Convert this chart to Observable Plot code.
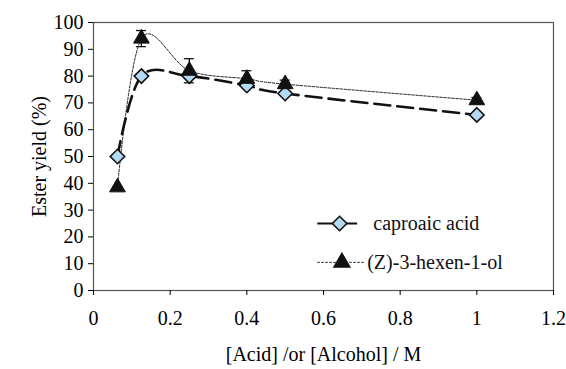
<!DOCTYPE html>
<html>
<head>
<meta charset="utf-8">
<script src="https://cdn.jsdelivr.net/npm/d3@7"></script>
<script src="https://cdn.jsdelivr.net/npm/@observablehq/plot@0.6"></script>
<style>
  html, body { margin: 0; padding: 0; background: #fff; }
</style>
</head>
<body>
<div id="chart"></div>
<script>
// Concentration of acid or alcohol (M)
const conc = [0.0625, 0.125, 0.25, 0.4, 0.5, 1];
// Ester yield (%) for each substrate
const caproicYield = [50, 80, 80, 76.5, 73.5, 65.5];
const hexenolYield = [38.5, 94, 82, 79, 77, 71];
const hexenolError = [0, 3, 4.5, 3, 1.5, 1];

const xTicks = [0, 0.2, 0.4, 0.6, 0.8, 1, 1.2];
const yTicks = [0, 10, 20, 30, 40, 50, 60, 70, 80, 90, 100];

const seriesNames = ["caproaic acid", "(Z)-3-hexen-1-ol"];

const caproic = conc.map((c, i) => ({x: c, y: caproicYield[i]}));
const hexenol = conc.map((c, i) => ({x: c, y: hexenolYield[i], e: hexenolError[i]}));
const errs = hexenol.filter(d => d.e > 0);

// legend placed inside the plot area, in data units
const legend = [
  {x1: 0.585, x2: 0.689, xm: 0.642, y: 25, tx: 0.73, name: seriesNames[0]},
  {x1: 0.585, x2: 0.71, xm: 0.648, y: 10.5, tx: 0.714, name: seriesNames[1]}
];

const fill = "#b4dbf5";
const font = "'Liberation Serif', 'Times New Roman', serif";

const chart = Plot.plot({
  width: 566,
  height: 369,
  marginLeft: 93,
  marginRight: 13,
  marginTop: 22,
  marginBottom: 79,
  style: {fontFamily: font, fontSize: "20px", color: "#000", background: "#fff"},
  x: {domain: [0, 1.2]},
  y: {domain: [0, 100]},
  marks: [
    Plot.frame({stroke: "#555", strokeWidth: 1.2}),
    Plot.axisX({ticks: xTicks, tickFormat: d => String(d), tickSize: 5, tickPadding: 15, fontSize: 20,
      label: "[Acid] /or [Alcohol] / M", labelAnchor: "center", labelOffset: 70, labelArrow: false}),
    Plot.axisY({ticks: yTicks, tickSize: 5, tickPadding: 5, fontSize: 20,
      label: "Ester yield (%)", labelAnchor: "center", labelOffset: 62, labelArrow: false}),
    // error bars with caps
    Plot.ruleX(errs, {x: "x", y1: d => d.y - d.e, y2: d => d.y + d.e, stroke: "#111", strokeWidth: 1.3}),
    Plot.ruleY(errs, {y: d => d.y + d.e, x1: "x", x2: "x", insetLeft: -5, insetRight: -5, stroke: "#111", strokeWidth: 1.3}),
    Plot.ruleY(errs, {y: d => d.y - d.e, x1: "x", x2: "x", insetLeft: -5, insetRight: -5, stroke: "#111", strokeWidth: 1.3}),
    // smoothed lines
    Plot.line(hexenol, {x: "x", y: "y", curve: "cardinal", stroke: "#222", strokeWidth: 1, strokeDasharray: "2.5,1.5"}),
    Plot.line(caproic, {x: "x", y: "y", curve: "cardinal", stroke: "#111", strokeWidth: 2.6, strokeDasharray: "16,7"}),
    // markers
    Plot.dot(caproic, {x: "x", y: "y", symbol: "diamond2", r: 6.5, fill: fill, stroke: "#111", strokeWidth: 1.6}),
    Plot.dot(hexenol, {x: "x", y: "y", symbol: "triangle2", r: 7.5, fill: "#111", stroke: "#111", strokeWidth: 1}),
    // legend
    Plot.ruleY([legend[0]], {x1: "x1", x2: "x2", y: "y", stroke: "#111", strokeWidth: 1.8}),
    Plot.ruleY([legend[1]], {x1: "x1", x2: "x2", y: "y", stroke: "#222", strokeWidth: 1, strokeDasharray: "2.5,1.5"}),
    Plot.dot([legend[0]], {x: "xm", y: "y", symbol: "diamond2", r: 6.5, fill: fill, stroke: "#111", strokeWidth: 1.6}),
    Plot.dot([legend[1]], {x: "xm", y: "y", symbol: "triangle2", r: 7.5, fill: "#111", stroke: "#111"}),
    Plot.text(legend, {x: "tx", y: "y", text: "name", textAnchor: "start", fontSize: 20, fill: "#111"})
  ]
});

document.getElementById("chart").appendChild(chart);
</script>
</body>
</html>
